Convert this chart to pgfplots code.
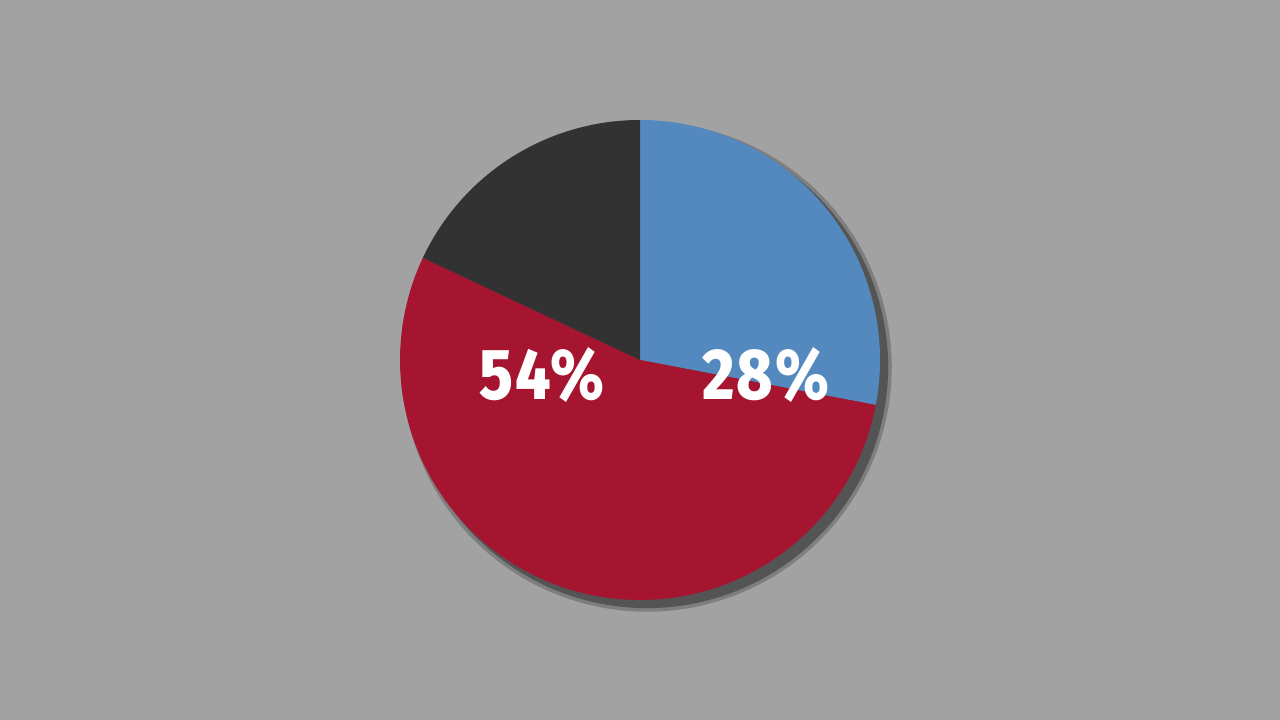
\documentclass[border=0pt]{standalone}
\usepackage{pgfplots}
\pgfplotsset{compat=1.18}
\usepackage{fontspec}
\newfontfamily\labfont[FakeStretch=0.86,LetterSpace=3,BoldFont={Fira Sans ExtraBold}]{Fira Sans}
\definecolor{bggray}{HTML}{A2A2A2}
\definecolor{shadowgray}{HTML}{545454}
\definecolor{pieblue}{HTML}{5389BE}
\definecolor{piered}{HTML}{A61530}
\definecolor{piedark}{HTML}{323232}
% shares in percent
\pgfmathsetmacro\vBlue{28}
\pgfmathsetmacro\vRed{54}
\pgfmathsetmacro\vDark{18}
\pgfmathsetmacro\aA{90}
\pgfmathsetmacro\aB{90-3.6*\vBlue}
\pgfmathsetmacro\aC{\aB-3.6*\vRed}
\pgfmathsetmacro\aD{\aC-3.6*\vDark}
\begin{document}
\begin{tikzpicture}
\begin{axis}[width=12.8cm,height=7.2cm,scale only axis,hide axis,
  xmin=-2.6666667,xmax=2.6666667,ymin=-1.5,ymax=1.5,clip=false]
\fill[bggray] (rel axis cs:0,0) rectangle (rel axis cs:1,1);
% shadow
\addplot[draw=none,fill=shadowgray,opacity=0.45,domain=0:360,samples=181]
  ({0.029+1.02*cos(x)},{-0.029+1.02*sin(x)}) -- cycle;
\addplot[draw=none,fill=shadowgray,domain=0:360,samples=181]
  ({0.029+1.005*cos(x)},{-0.029+1.005*sin(x)}) -- cycle;
% slices
\addplot[draw=none,fill=pieblue,domain=\aB:\aA,samples=80]
  ({cos(x)},{sin(x)}) -- (axis cs:0,0) -- cycle;
\addplot[draw=none,fill=piered,domain=\aC:\aB,samples=120]
  ({cos(x)},{sin(x)}) -- (axis cs:0,0) -- cycle;
\addplot[draw=none,fill=piedark,domain=\aD:\aC,samples=60]
  ({cos(x)},{sin(x)}) -- (axis cs:0,0) -- cycle;
\node[text=white,font=\labfont\bfseries\fontsize{20.5}{24}\selectfont] at (axis cs:-0.408,-0.0625) {54\%};
\node[text=white,font=\labfont\bfseries\fontsize{20.5}{24}\selectfont] at (axis cs:0.525,-0.0625) {28\%};
\end{axis}
\end{tikzpicture}
\end{document}
